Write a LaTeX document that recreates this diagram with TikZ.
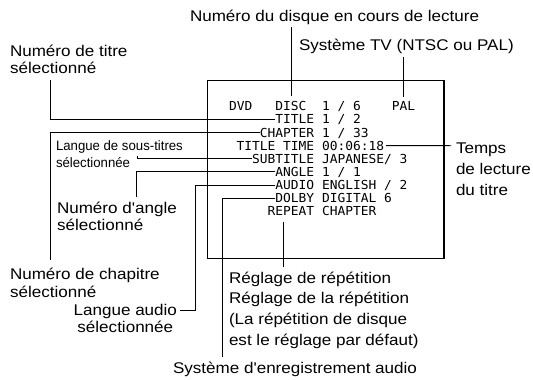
\documentclass[tikz,border=0pt]{standalone}
\usepackage{fontspec}
\setmainfont{Liberation Sans}
\newfontfamily\lblfont{Liberation Sans}[FakeStretch=1.1]
\newfontfamily\narrowfont{Liberation Sans}[FakeStretch=0.97]
\newfontfamily\osdfont{DejaVu Sans Mono}[FakeStretch=1.04]
\usetikzlibrary{calc}
\tikzset{
  lbl/.style={font=\lblfont\fontsize{15.5}{#1}\selectfont, inner sep=0pt, outer sep=0pt, align=left, anchor=north west},
  lbl/.default=17.5,
  smalllbl/.style={font=\narrowfont\fontsize{13.6}{16.5}\selectfont, inner sep=0pt, outer sep=0pt, align=left, anchor=north west},
  osd/.style={font=\osdfont\fontsize{12.4}{13}\selectfont, inner sep=0pt, outer sep=0pt},
  osdl/.style={osd, anchor=base east},
  osdv/.style={osd, anchor=base west},
  conn/.style={line width=0.9pt},
  screen/.style={line width=1.6pt},
}
\begin{document}
\begin{tikzpicture}[x=1pt,y=-1pt]
\useasboundingbox (0,0) rectangle (533,380);

% screen
\draw[screen] (207.5,80.5) rectangle (444,258.5);

% OSD text
\node[osdv] (dvd)   at (229,110.7)    {DVD};
\node[osdl] (disc)  at (306.5,110.7)  {DISC};
\node[osdv] (discv) at (322,110.7)    {1 / 6};
\node[osdv] (pal)   at (391.75,110.7) {PAL};
\node[osdl] (title)   at (314.25,123.85) {TITLE};
\node[osdv] (titlev)  at (322,123.85)    {1 / 2};
\node[osdl] (chapter) at (314.25,137)    {CHAPTER};
\node[osdv] (chapterv) at (322,137)      {1 / 33};
\node[osdl] (ttime)   at (314.25,150.15) {TITLE TIME};
\node[osdv] (ttimev)  at (322,150.15)    {00:06:18};
\node[osdl] (subtitle) at (314.25,163.3) {SUBTITLE};
\node[osdv] (subtitlev) at (322,163.3)   {JAPANESE/ 3};
\node[osdl] (angle)   at (314.25,176.45) {ANGLE};
\node[osdv] (anglev)  at (322,176.45)    {1 / 1};
\node[osdl] (audio)   at (314.25,189.6)  {AUDIO};
\node[osdv] (audiov)  at (322,189.6)     {ENGLISH / 2};
\node[osdl] (dolby)   at (314.25,202.75) {DOLBY};
\node[osdv] (dolbyv)  at (322,202.75)    {DIGITAL 6};
\node[osdl] (repeat)  at (314.25,215.9)  {REPEAT};
\node[osdv] (repeatv) at (322,215.9)     {CHAPTER};

% labels
\node[lbl] (topdisc) at (190,10) {Numéro du disque en cours de lecture};
\node[lbl] (tv) at (299,39) {Système TV (NTSC ou PAL)};
\node[lbl=17.5] (titre) at (10,44.7) {Numéro de titre\\sélectionné};
\node[smalllbl] (soustitre) at (56,140.8) {Langue de sous-titres\\sélectionnée};
\node[lbl=17] (angl) at (57,201.7) {Numéro d'angle\\sélectionné};
\node[lbl=18] (chap) at (10,267.7) {Numéro de chapitre\\sélectionné};
\node[lbl=16.5, anchor=north east, align=center] (audl) at (177,304.7) {Langue audio\\sélectionnée};
\node[lbl=21] (temps) at (456,142.7) {Temps\\de lecture\\du titre};
\node[lbl=20.7] (regl) at (229,271.7) {Réglage de répétition\\Réglage de la répétition\\(La répétition de disque\\est le réglage par défaut)};
\node[lbl] (sysaud) at (173,361.7) {Système d'enregistrement audio};

% connector free ends
\coordinate (cdisc) at (291,27);
\coordinate (ctitre) at (50.5,80);
\coordinate (cchap) at (50.5,260);
\coordinate (csub) at (137,156);
\coordinate (cang) at (136,197);
\coordinate (caudc) at (195,310);
\coordinate (caud) at (180,310);
\coordinate (cdol) at (222,357);
\coordinate (crep1) at (283,222);
\coordinate (crep2) at (283,267);
\coordinate (ctemps) at (451,145.7);

% connectors
\draw[conn] (cdisc) -- ($(cdisc |- disc.north)+(0,-5)$);
\draw[conn] ($(tv.south -| pal.north)+(0,3)$) -- ($(pal.north)+(0,-5)$);
\draw[conn] (ctitre) |- (title.west);
\draw[conn] (chapter.west) -| (cchap);
\draw[conn] (csub) |- (subtitle.west);
\draw[conn] (angle.west) -| (cang);
\draw[conn] (audio.west) -| (caudc) -- (caud);
\draw[conn] (dolby.west) -| (cdol);
\draw[conn] (crep1) -- (crep2);
\draw[conn] ($(ttimev.east)+(2,0)$) -- (ctemps);
\end{tikzpicture}
\end{document}
